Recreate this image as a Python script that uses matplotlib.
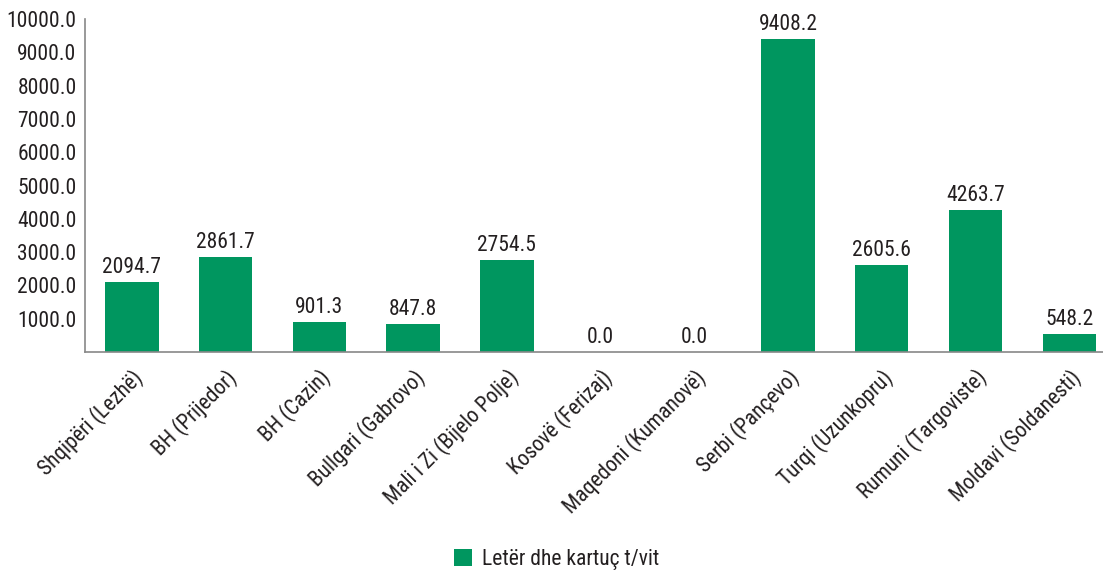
import matplotlib.pyplot as plt
from matplotlib import font_manager
import numpy as np

# waste paper & cartridge generation per site (t/vit)
categories = ["Shqipëri (Lezhë)", "BH (Prijedor)", "BH (Cazin)", "Bullgari (Gabrovo)",
              "Mali i Zi (Bijelo Polje)", "Kosovë (Ferizaj)", "Maqedoni (Kumanovë)",
              "Serbi (Pançevo)", "Turqi (Uzunkopru)", "Rumuni (Targoviste)",
              "Moldavi (Soldanesti)"]
values = [2094.7, 2861.7, 901.3, 847.8, 2754.5, 0.0, 0.0, 9408.2, 2605.6, 4263.7, 548.2]
series_name = "Letër dhe kartuç t/vit"
yticks = [1000, 2000, 3000, 4000, 5000, 6000, 7000, 8000, 9000, 10000]

names = {f.name for f in font_manager.fontManager.ttflist}
fam = [f for f in ["Roboto Condensed", "Liberation Sans Narrow", "DejaVu Sans Condensed"] if f in names]
plt.rcParams['font.family'] = fam + ['DejaVu Sans']

green = "#00965f"
txt = "#231f20"

fig = plt.figure(figsize=(11.03, 5.77), dpi=100)
ax = fig.add_axes([0.077, 0.39, 0.923, 0.577])

x = np.arange(len(categories))
bars = ax.bar(x, values, width=0.57, color=green, label=series_name)
for b, v in zip(bars, values):
    ax.text(b.get_x() + b.get_width() / 2, v + 120, f"{v:.1f}",
            ha='center', va='bottom', fontsize=15.5, color=txt)

ax.set_xlim(-0.5, 10.36)
ax.set_ylim(0, 10000)
ax.set_yticks(yticks)
ax.set_yticklabels([f"{t:.1f}" for t in yticks], fontsize=15.5, color=txt)
ax.set_xticks(x)
ax.set_xticklabels(categories, rotation=45, ha='right', rotation_mode='anchor',
                   fontsize=15.5, color=txt)
ax.tick_params(length=0, pad=6)
ax.tick_params(axis='x', pad=10)

for s in ['top', 'right']:
    ax.spines[s].set_visible(False)
for s in ['left', 'bottom']:
    ax.spines[s].set_color('#888888')
    ax.spines[s].set_linewidth(1.2)

fig.legend(handles=[bars], labels=[series_name], loc='center', bbox_to_anchor=(0.505, 0.03),
           frameon=False, fontsize=15.5, handlelength=0.8, handleheight=0.8,
           handletextpad=0.5, labelcolor=txt)

fig.savefig("out.png", dpi=100)
